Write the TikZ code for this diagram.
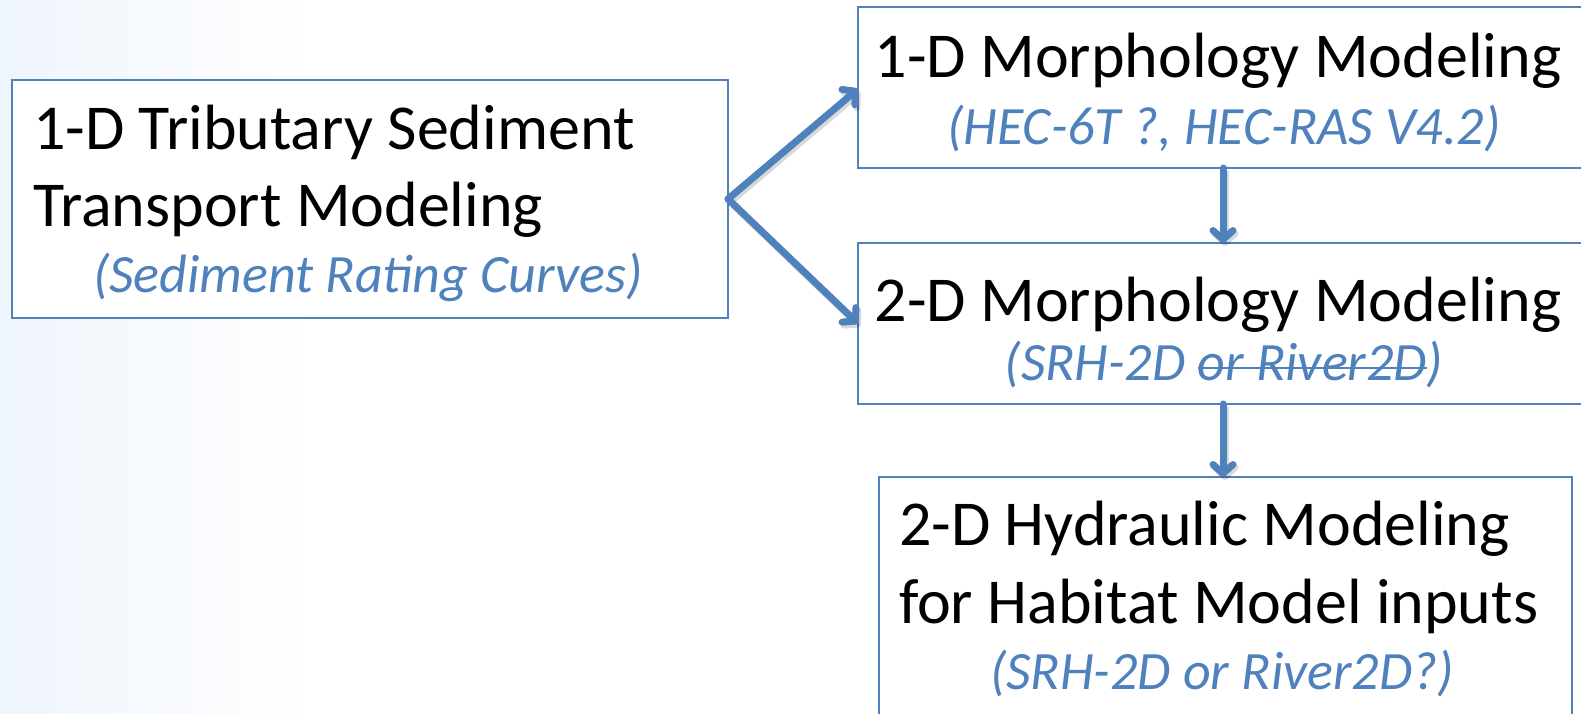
\documentclass[tikz,border=0pt]{standalone}
\usepackage{fontspec}
\setmainfont{Carlito}
\usetikzlibrary{arrows.meta}

\definecolor{officeblue}{HTML}{4F81BD}
\definecolor{bgtint}{HTML}{EFF5FC}

% struck-through text, the rule takes the current text colour
\newcommand\strikeout[1]{\setbox0\hbox{#1}\rlap{\raisebox{0.2em}{\rule{\wd0}{0.05em}}}\box0}

\tikzset{
  box/.style={draw=officeblue, line width=1.6pt, fill=white, rectangle,
    anchor=north west, inner sep=0pt, outer sep=0pt},
  titletext/.style={inner sep=0pt, outer sep=0pt, text=black,
    font=\fontsize{64}{77}\selectfont},
  subtext/.style={inner sep=0pt, outer sep=0pt, text=officeblue,
    font=\fontsize{54}{60}\selectfont\itshape},
  flowarrow/.style={draw=officeblue, line width=7pt, line cap=round,
    -{Straight Barb[length=9pt, width=20pt, line cap=round, round]},
    preaction={draw=black, opacity=0.15, line width=7pt,
      transform canvas={shift={(2pt,-3pt)}}}},
}

\begin{document}
\begin{tikzpicture}[x=1pt, y=-1pt]
  \useasboundingbox (0,0) rectangle (1581,713);
  \clip (0,0) rectangle (1581,713);

  % faint tint along the left margin
  \fill[white] (0,0) rectangle (1581,713);
  \shade[left color=bgtint, right color=white] (0,0) rectangle (320,713);

  % boxes
  \node[box, minimum width=716pt, minimum height=238pt] (trib) at (12,80) {};
  \node[box, minimum width=732pt, minimum height=161pt] (m1d) at (858,7) {};
  \node[box, minimum width=732pt, minimum height=161pt] (m2d) at (858,243) {};
  \node[box, minimum width=693pt, minimum height=260pt] (hyd) at (879,477) {};

  % tributary sediment transport
  \node[titletext, anchor=base west] (tribA) at (33,149) {1-D Tributary Sediment};
  \node[titletext, anchor=base west] (tribB) at (33,226) {Transport Modeling};
  \node[subtext, anchor=base] (tribC) at (368,292) {(Sediment Rating Curves)};

  % 1-D morphology
  \node[titletext, anchor=base] (m1dA) at (1218,77) {1-D Morphology Modeling};
  \node[subtext, anchor=base] (m1dB) at (1224,144) {(HEC-6T ?, HEC-RAS V4.2)};

  % 2-D morphology
  \node[titletext, anchor=base] (m2dA) at (1218,321) {2-D Morphology Modeling};
  \node[subtext, anchor=base] (m2dB) at (1224,380) {(SRH-2D \strikeout{or River2D})};

  % 2-D hydraulics
  \node[titletext, anchor=base west] (hydA) at (899,545) {2-D Hydraulic Modeling};
  \node[titletext, anchor=base west] (hydB) at (899,623) {for Habitat Model inputs};
  \node[subtext, anchor=base] (hydC) at (1222,689) {(SRH-2D or River2D?)};

  % connectors
  \draw[flowarrow] (trib.east) -- ([yshift=-1.5pt]m1d.west);
  \draw[flowarrow] (trib.east) -- (m2d.west);
  \draw[flowarrow] ([xshift=-1pt]m1d.south) -- ([xshift=-1pt]m2d.north);
  \draw[flowarrow] ([xshift=-1pt]m2d.south) -- ([xshift=-1pt]m2d.south |- hyd.north);
\end{tikzpicture}
\end{document}
